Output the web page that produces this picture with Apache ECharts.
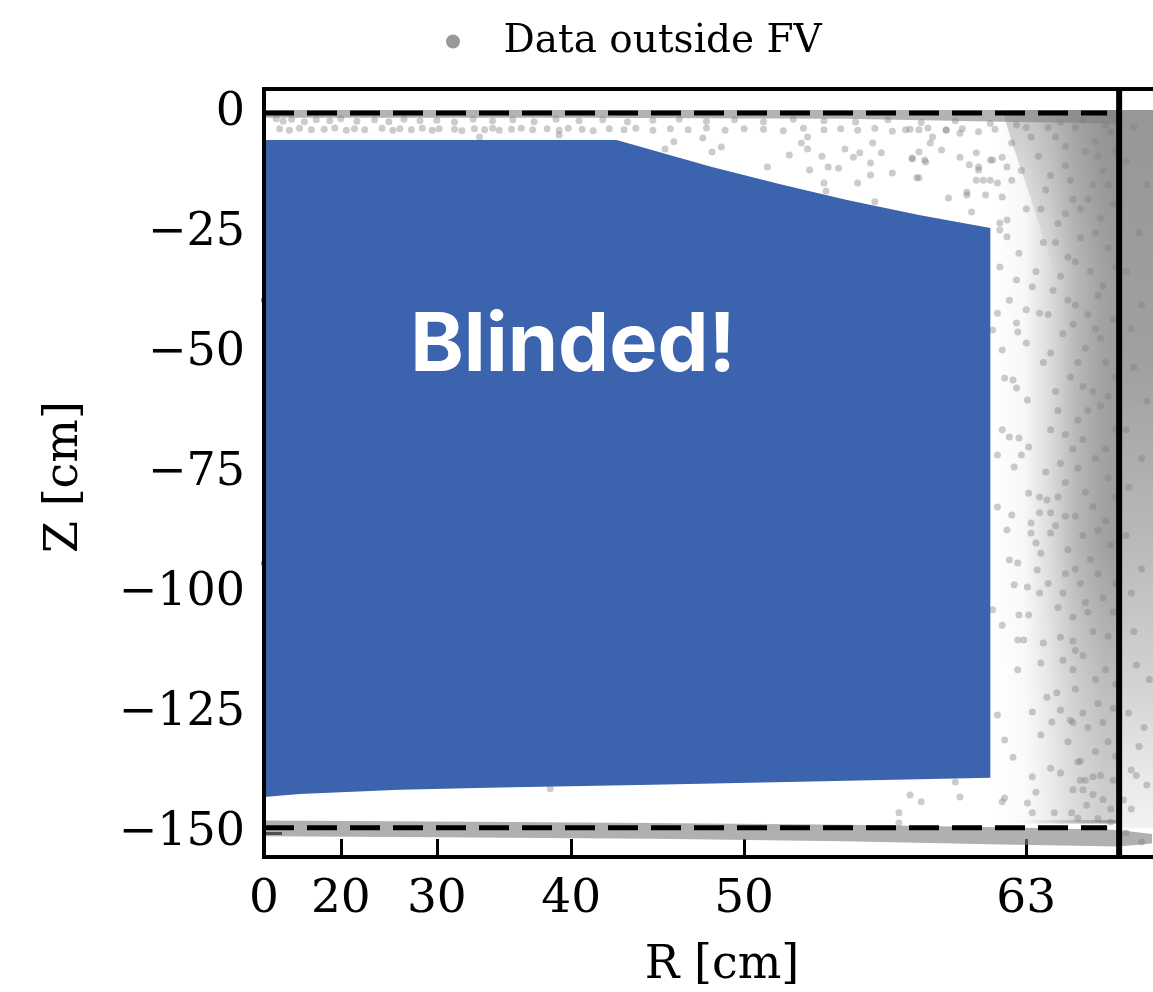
<!DOCTYPE html>
<html><head><meta charset="utf-8">
<script src="https://cdn.jsdelivr.net/npm/echarts@6/dist/echarts.min.js"></script>
<style>html,body{margin:0;padding:0;background:#fff}#c{width:1153px;height:992px}</style>
</head><body><div id="c"></div>
<script>
// ---- axis ticks (x axis is linear in R^2, labelled in R) ----
const xTickR = [0, 20, 30, 40, 50, 63];
const yTicks = [0, -25, -50, -75, -100, -125, -150];

// ---- blinded fiducial volume outline [R cm], [Z cm] ----
const fvR = [0, 42.85, 45.7, 48.3, 51.8, 55.1, 58.4, 61.5, 61.5, 52.8, 44.2, 35.0, 26.6, 13.6, 0];
const fvZ = [-5.6, -5.6, -8.5, -11.25, -14.8, -18.1, -21.25, -23.96, -138.5, -139.3, -140.0, -140.5, -141.0, -141.9, -142.5];
const blindEdgePts = [[0, -39], [0, -93.8]];

// ---- reference lines ----
const gateZ = 0, cathodeZ = -148.9, dashRmax = 66.26, wallR = 66.73;

// ---- dense event regions (outline as [R, Z]) ----
const topBand = [[0, 0.6], [66.7, 0.6], [66.7, -2.2], [62, -1.8], [55, -1.2], [40, -1.0], [0, -1.0]];
const bottomBand = [[0, -147.4], [30, -147.6], [45, -147.9], [55, -148.3], [62, -148.8], [66.7, -149.4], [68, -150.2],
  [68, -152.2], [66.7, -152.8], [62, -152.4], [55, -151.7], [45, -151.2], [30, -150.9], [0, -150.7]];
const wallBand = [[61.6, 0.6], [61.6, -148], [66.73, -148], [66.73, 0.6]];
const wallTop = [[62.0, 0.6], [66.73, 0.6], [66.73, -34], [64.2, -34], [63.2, -18], [62.4, -6]];
const wallFade = [[61.5, -90], [66.73, -90], [66.73, -147.3], [61.5, -147.3]];
const outerWall = [[66.73, 0.6], [69.5, 0.6], [69.5, -149], [66.73, -149]];

// ---- individual events outside FV [R, Z] ----
const rowLow = [[9.0,-3.3],[11.5,-3.6],[13.6,-3.2],[15.7,-3.5],[17.7,-3.4],[19.2,-3.1],[20.7,-3.6],[21.7,-3.3],[22.9,-3.5],[24.8,-3.2],[25.9,-3.6],[26.6,-3.3],[27.7,-3.5],[28.7,-3.2],[29.6,-3.6],[30.2,-3.3],[31.5,-3.4],[32.1,-3.7],[33.1,-3.3],[33.9,-3.5],[34.5,-3.2],[35.0,-3.6],[35.9,-3.4],[36.6,-3.2],[37.4,-3.5],[38.4,-3.3],[39.2,-3.6],[39.8,-3.2],[40.7,-3.4],[41.4,-3.7],[42.4,-3.3],[43.3,-3.5],[44.0,-3.2],[45.0,-3.6],[46.0,-3.3],[47.0,-3.5],[48.0,-3.1],[49.0,-3.6],[50.0,-3.3],[51.0,-3.4],[52.0,-3.7],[53.0,-3.2],[54.0,-3.5],[54.8,-3.3],[55.6,-3.6],[56.4,-3.2],[57.2,-3.8],[58.0,-3.4],[58.8,-3.1],[59.6,-3.6],[60.3,-3.3],[61.0,-3.9],[61.7,-3.4]];
const rowHigh = [[8,-1.2],[10,-1.7],[12,-1.3],[14.5,-1.8],[16.5,-1.4],[18.5,-1.6],[20,-1.2],[22,-1.7],[24,-1.4],[25.5,-1.8],[27,-1.3],[28.5,-1.6],[30,-1.5],[31.5,-1.9],[33,-1.3],[34.5,-1.6],[36,-1.4],[37.5,-1.8],[39,-1.3],[40.5,-1.6],[42,-1.4],[43.5,-1.8],[45,-1.5],[46.5,-1.3],[48,-1.7],[49.5,-1.4],[51,-1.8],[52.5,-1.3],[54,-1.6],[55.5,-1.9],[57,-1.4],[58.5,-2.0],[60,-1.6],[61.5,-2.2]];
const wedge = [[33.5,-5.0],[39.2,-4.6],[46.2,-6.0],[47.8,-5.2],[45.7,-7.5],[48.3,-8.1],[48.8,-7.1],[51.2,-11.25],[52.3,-8.75],[52.9,-6.25],[53.2,-7.5],[53.2,-5.0],[53.9,-9.0],[54.2,-11.25],[54.7,-11.5],[53.3,-11.9],[54.0,-14.6],[54.1,-16.25],[55.0,-7.5],[55.4,-9.2],[55.7,-8.3],[55.6,-14.6],[56.2,-12.9],[56.3,-6.25],[56.7,-8.3],[56.2,-10.4],[57.2,-12.5],[56.4,-18.5],[58.1,-9.6],[58.3,-13.5],[58.7,-10.2],[58.4,-8.1],[58.9,-6.25],[59.4,-7.7],[59.7,-17.7],[60.2,-9.2],[60.5,-17.1],[60.5,-16.5],[60.7,-20.6],[61.3,-17.1],[61.0,-11.25],[61.2,-14.0],[61.8,-14.6],[62.0,-17.5],[62.2,-22.3],[61.9,-24.4],[60.9,-8.3],[61.5,-9.8],[62.0,-9.2],[62.2,-11.25],[62.4,-6.25],[62.4,-14.0],[57.8,-3.5],[58.4,-3.5],[59.0,-5.0],[59.6,-3.5],[60.2,-4.2],[58.1,-9.4],[58.65,-9.8],[58.4,-13.5],[60.6,-10.8],[61.0,-11.9],[61.5,-14.0],[61.6,-9.8],[60.9,-14.0]];
const sparse = [[61.9,-22.9],[62.2,-25.8],[62.7,-29.2],[61.9,-32.1],[62.6,-34.8],[63.25,-36.2],[62.3,-39],[63.0,-41],[63.55,-41.7],[61.8,-41.7],[62.6,-43.75],[61.6,-45.2],[62.0,-49.4],[62.65,-45.6],[63.0,-47.9],[62.1,-55.2],[62.45,-55.6],[62.6,-57.3],[63.05,-59.8],[62.0,-66.0],[62.3,-67.5],[62.7,-67.7],[63.1,-69.6],[62.8,-71.25],[61.8,-71.25],[62.5,-73.75],[63.8,-74.8],[63.1,-79.2],[63.55,-80.0],[61.8,-82.1],[62.4,-83.75],[62.2,-86.9],[63.2,-85.4],[63.55,-83.3],[63.85,-80.6],[64.0,-83.3],[63.2,-87.5],[63.4,-89.6],[64.0,-87.5],[62.3,-93.1],[62.65,-93.75],[63.6,-91.7],[63.45,-95.2],[62.5,-98.3],[63.05,-98.75],[63.55,-100],[61.6,-103.5],[62.0,-106.7],[62.7,-104.6],[63.1,-104.6],[62.65,-109.8],[62.9,-109.8],[63.7,-110.4],[63.6,-114.6],[62.65,-116],[63.85,-121.7],[63.25,-124.8],[61.8,-125.4],[64.05,-126.9],[62.1,-130.6],[63.6,-129.6],[62.45,-134.2],[64.25,-120.8],[64.4,-124.4],[64.8,-126.5],[64.9,-116],[64.5,-114],[64.4,-109.2]];
const lowerGap = [[38.6,-140.8],[58.0,-142.1],[58.5,-143.5],[60.2,-142.5],[60.0,-139.4],[57.5,-145.8],[57.5,-147.9],[62.0,-143.5],[62.1,-142.7],[63.05,-143.75],[63.25,-138.3],[63.4,-141.5],[63.25,-145.8],[64.0,-136.5],[64.15,-145.8],[64.4,-137.5],[64.85,-145.8],[65.1,-146.9],[65.2,-139],[65.3,-141],[65.45,-144.2],[65.7,-138.3],[66.4,-147.7],[65.1,-135.2],[67.2,-136.9],[66.9,-143.1],[67.6,-151.9]];
const wallPts = [[64.2,-5],[65.0,-3],[65.8,-6],[66.4,-4],[63.5,-9],[64.6,-11],[65.4,-8],[66.1,-12],[63.8,-16],[64.9,-18],[65.7,-15],[66.5,-19],[64.3,-23],[65.2,-26],[66.0,-22],[64.7,-30],[65.6,-33],[66.3,-28],[64.1,-37],[65.0,-40],[65.9,-38],[66.5,-43],[64.5,-46],[65.4,-49],[66.2,-52],[64.8,-55],[65.7,-58],[64.3,-62],[65.1,-64],[66.0,-61],[66.6,-66],[64.9,-70],[65.8,-72],[64.6,-77],[65.4,-79],[66.3,-76],[65.0,-84],[65.9,-87],[64.7,-91],[65.6,-93],[66.4,-90],[65.2,-98],[66.1,-101],[64.9,-105],[65.7,-108],[66.5,-104],[65.3,-113],[66.2,-116],[65.0,-120],[65.9,-123],[66.6,-119],[65.5,-128],[66.3,-131],[65.2,-135],[66.0,-138],[66.6,-134],[65.7,-142],[66.4,-145],[63.9,-98],[64.2,-86],[64.0,-66],[63.7,-52],[63.4,-33],[63.0,-20],[62.8,-12],
  [63.9,-3],[64.6,-7],[63.2,-5],[64.0,-13],[65.2,-20],[63.7,-27],[64.4,-34],[64.9,-44],[64.0,-50],[64.6,-67],[64.3,-80],[64.6,-96],[64.5,-100],[64.3,-103],[64.9,-110],[64.7,-131],[64.9,-141],[65.4,-102],[65.3,-57],[65.8,-45],
  [64.4,-2],[65.3,-1.5],[66.2,-2.5],[63.0,-3],[62.6,-2.5],[64.8,-14],[65.9,-9],[66.6,-8],[63.6,-20],[64.6,-21],[65.5,-18],[66.3,-15],[64.2,-27],[65.0,-31],[65.8,-25],[66.6,-32],[63.9,-42],[64.7,-39],[65.5,-42],[66.1,-36],[65.1,-52],[66.0,-47],[66.6,-55],[64.2,-58],[65.5,-62],[66.3,-59],[64.6,-84],[65.3,-68],[66.2,-70],[65.1,-74],[66.6,-80],[65.7,-82],[64.4,-73],[65.3,-88],[66.2,-85],[65.0,-95],[65.9,-96],[66.6,-98],[65.5,-104],[66.3,-109],[65.0,-112],[65.8,-118],[66.5,-124],[65.3,-125],[64.9,-127],[66.1,-127],[65.8,-133],[66.5,-139],[65.4,-139],[66.1,-143],[65.9,-147]];
const outerPts = [[67.0,-10],[67.5,-25],[67.2,-45],[67.8,-60],[67.1,-78],[67.6,-95],[67.3,-108],[67.9,-118],[67.1,-125],[67.5,-132],[67.8,-140],[67.2,-145],[67.4,-115],[67.0,-88],
  [67.3,-3],[67.8,-15],[67.0,-33],[67.6,-40],[67.3,-53],[67.0,-66],[67.6,-72],[67.2,-100],[67.7,-128],[67.4,-138],[67.0,-150]];

// ---- build ----
const toXY = p => [p[0] * p[0], p[1]];
const grayPts = [].concat(rowLow, rowHigh, wedge, sparse, lowerGap, wallPts, outerPts).map(toXY);
const FONT = 'DejaVu Serif';
const g = (a) => 'rgba(128,128,128,' + a + ')';
const w = (a) => 'rgba(255,255,255,' + a + ')';

function polySeries(pts, fill, z) {
  return {
    type: 'custom', coordinateSystem: 'cartesian2d', silent: true, z: z, clip: true,
    data: [[0, 0]],
    renderItem: function (params, api) {
      return { type: 'polygon', shape: { points: pts.map(p => api.coord(toXY(p))) }, style: { fill: fill } };
    }
  };
}
const grad = (x2, y2, col, stops) => new echarts.graphic.LinearGradient(0, 0, x2, y2, stops.map(s => ({ offset: s[0], color: col(s[1]) })));

const chart = echarts.init(document.getElementById('c'), null, { renderer: 'canvas' });
chart.setOption({
  animation: false,
  backgroundColor: '#fff',
  grid: { left: 264, top: 89, bottom: 135, width: 941, outerBoundsMode: 'none', containLabel: false,
    show: true, borderColor: '#000', borderWidth: 4, backgroundColor: 'transparent', z: 10 },
  legend: {
    data: [{ name: 'Data outside FV', icon: 'circle', itemStyle: { color: '#999', opacity: 1 } }],
    left: 446, top: 22, padding: 0, itemWidth: 91, itemHeight: 14,
    textStyle: { fontFamily: FONT, fontSize: 39, color: '#000' }
  },
  xAxis: {
    type: 'value', min: 0, max: 4900,
    axisLine: { show: false, onZero: false }, splitLine: { show: false },
    axisTick: { show: true, inside: true, length: 18, lineStyle: { color: '#000', width: 3 }, customValues: xTickR.map(r => r * r) },
    axisLabel: { show: true, margin: 19, showMinLabel: true, fontFamily: FONT, fontSize: 47, color: '#000',
      customValues: xTickR.map(r => r * r), formatter: v => String(Math.round(Math.sqrt(v))) }
  },
  yAxis: {
    type: 'value', min: -155, max: 5,
    axisLine: { show: false, onZero: false }, splitLine: { show: false },
    axisTick: { show: true, inside: true, length: 18, lineStyle: { color: '#000', width: 3 }, customValues: yTicks },
    axisLabel: { show: true, margin: 19, fontFamily: FONT, fontSize: 46, color: '#000',
      customValues: yTicks, formatter: v => (v < 0 ? '\u2212' + Math.abs(v) : String(v)) }
  },
  graphic: [
    { type: 'text', x: 722, y: 966, z: 20, style: { text: 'R [cm]', font: '46px "DejaVu Serif"', fill: '#000', textAlign: 'center', textVerticalAlign: 'middle' } },
    { type: 'text', x: 65, y: 477, rotation: Math.PI / 2, z: 20, style: { text: 'Z [cm]', font: '46px "DejaVu Serif"', fill: '#000', textAlign: 'center', textVerticalAlign: 'middle' } },
    { type: 'text', x: 573, y: 347, z: 20, style: { text: 'Blinded!', font: 'bold 81px Inter', fill: '#fff', textAlign: 'center', textVerticalAlign: 'middle' } }
  ],
  series: [
    polySeries(topBand, g(0.6), 1),
    polySeries(bottomBand, g(0.62), 1),
    polySeries(wallBand, grad(1, 0, g, [[0, 0.0], [0.25, 0.06], [0.45, 0.28], [0.65, 0.55], [0.85, 0.72], [1, 0.78]]), 1),
    polySeries(wallTop, grad(0, 1, g, [[0, 0.4], [0.5, 0.22], [1, 0.0]]), 1),
    polySeries(outerWall, grad(0, 1, g, [[0, 0.82], [0.35, 0.75], [0.6, 0.55], [0.8, 0.35], [0.92, 0.18], [1, 0.1]]), 1),
    polySeries(wallFade, grad(0, 1, w, [[0, 0.0], [0.5, 0.3], [1, 0.5]]), 1),
    {
      name: 'Data outside FV', type: 'scatter', z: 2, silent: true,
      symbol: 'circle', symbolSize: 7,
      itemStyle: { color: g(0.5) },
      data: grayPts
    },
    polySeries(fvR.map((r, i) => [r, fvZ[i]]), '#3c63ae', 3),
    {
      type: 'scatter', z: 3, silent: true, symbolSize: 6, itemStyle: { color: '#3c63ae' },
      data: blindEdgePts.map(toXY)
    },
    {
      type: 'line', z: 4, silent: true, symbol: 'none',
      lineStyle: { color: '#000', width: 5, type: [30, 13] },
      data: [[0, gateZ], [dashRmax * dashRmax, gateZ]]
    },
    {
      type: 'line', z: 4, silent: true, symbol: 'none',
      lineStyle: { color: '#000', width: 5, type: [30, 13] },
      data: [[0, cathodeZ], [dashRmax * dashRmax, cathodeZ]]
    },
    {
      type: 'line', z: 4, silent: true, symbol: 'none',
      lineStyle: { color: '#000', width: 6 },
      data: [[wallR * wallR, -155], [wallR * wallR, 5]]
    }
  ]
});
</script>
</body></html>
